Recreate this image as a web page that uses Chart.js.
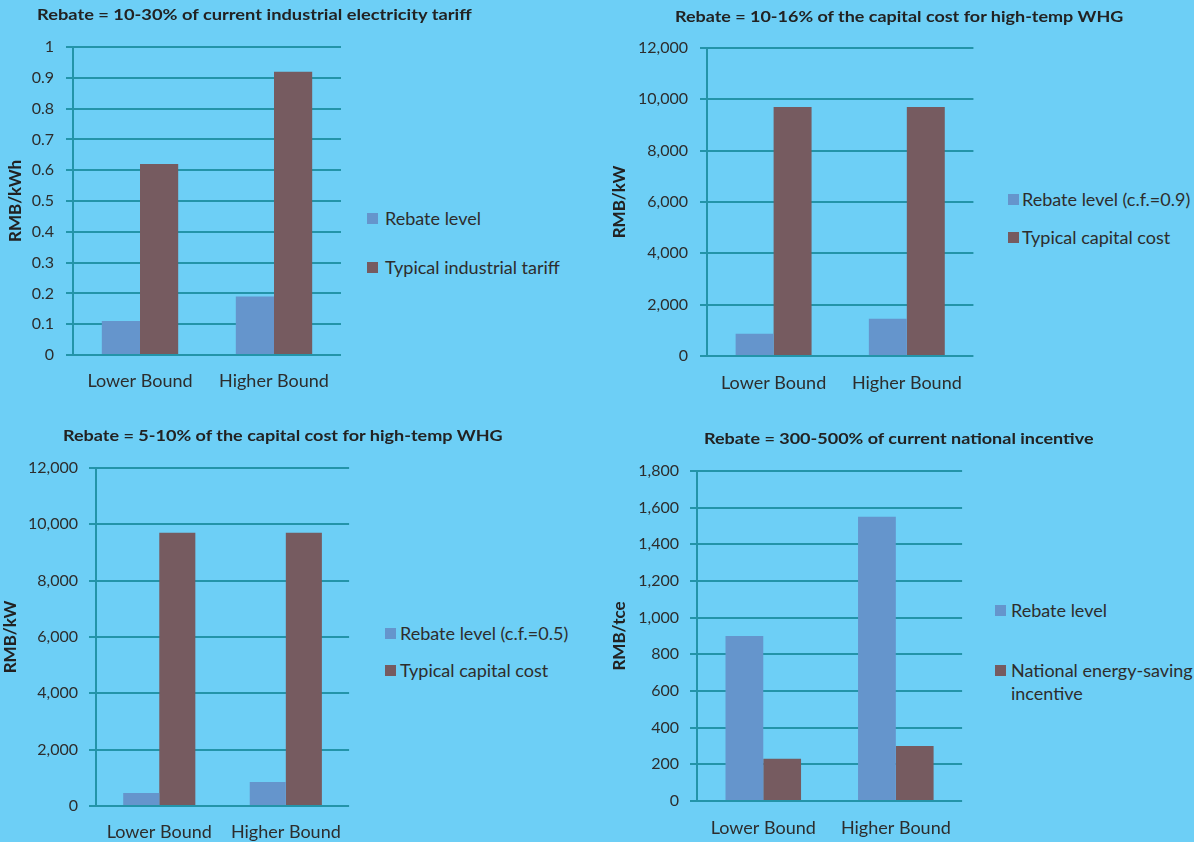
<!DOCTYPE html>
<html>
<head>
<meta charset="utf-8">
<script src="https://cdn.jsdelivr.net/npm/chart.js@4.4.1/dist/chart.umd.min.js"></script>
<style>
  body { margin: 0; width: 1194px; height: 842px; overflow: hidden; background: #6dcff6;
         font-family: Lato, "Open Sans", sans-serif; color: #2d2d2d; position: relative; }
  canvas { position: absolute; }
  .titulo { position: absolute; font-weight: bold; font-size: 15px; line-height: 1; white-space: nowrap;
            color: #222; transform-origin: 0 50%; }
  .leyenda { position: absolute; font-size: 18px; line-height: 23px; white-space: nowrap; }
  .leyenda i { position: absolute; left: 0; top: 6px; width: 11px; height: 11px; }
</style>
</head>
<body>
<canvas id="c1"></canvas>
<canvas id="c2"></canvas>
<canvas id="c3"></canvas>
<canvas id="c4"></canvas>

<script>
// Datos
const categorias = ['Lower Bound', 'Higher Bound'];

// 1) Tarifa electrica (RMB/kWh)
const tarifaRebaja = [0.11, 0.19];
const tarifaIndustrial = [0.62, 0.92];

// 2) Coste de capital, c.f.=0.9 (RMB/kW)
const capital09Rebaja = [870, 1450];
const capital09Coste = [9700, 9700];

// 3) Coste de capital, c.f.=0.5 (RMB/kW)
const capital05Rebaja = [460, 850];
const capital05Coste = [9700, 9700];

// 4) Incentivo nacional (RMB/tce)
const incentivoRebaja = [900, 1550];
const incentivoNacional = [230, 300];

// Escalas del eje y: [max, paso]
const ejeTarifa = [1, 0.1];
const ejeCapital = [12000, 2000];
const ejeIncentivo = [1800, 200];

const AZUL = '#6595cc';
const MARRON = '#765b60';
const REJILLA = '#2394a9';
const TEXTO = '#2d2d2d';

function formatoTick(v) {
  return Number(v.toFixed(2)).toLocaleString('en-US');
}

function crearGrafico(id, caja, area, opc) {
  const cv = document.getElementById(id);
  cv.style.left = caja.x + 'px';
  cv.style.top = caja.y + 'px';
  cv.width = caja.w;
  cv.height = caja.h;

  const altoX = caja.y + caja.h - area.b;
  new Chart(cv, {
    type: 'bar',
    data: {
      labels: categorias,
      datasets: [
        { label: opc.nombres[0], data: opc.series[0], backgroundColor: AZUL },
        { label: opc.nombres[1], data: opc.series[1], backgroundColor: MARRON }
      ]
    },
    options: {
      responsive: false,
      animation: false,
      categoryPercentage: 0.57,
      barPercentage: 1,
      layout: {
        padding: { left: 0, right: caja.x + caja.w - area.r, top: area.t - caja.y, bottom: 0 }
      },
      plugins: { legend: { display: false }, title: { display: false }, tooltip: { enabled: false } },
      scales: {
        x: {
          grid: { display: false, drawTicks: false },
          border: { display: false },
          ticks: { color: TEXTO, font: { family: 'Lato', size: 18 }, padding: opc.padX },
          afterFit(s) { s.height = altoX; }
        },
        y: {
          min: 0,
          max: opc.eje[0],
          ticks: { stepSize: opc.eje[1], color: TEXTO, font: { family: 'Lato', size: 16 },
                   padding: opc.padY, callback: formatoTick },
          grid: { color: REJILLA, lineWidth: 2, tickLength: 7, tickColor: REJILLA },
          border: { color: REJILLA, width: 2 },
          title: {
            display: true, text: opc.tituloY, color: '#222',
            font: { family: 'Lato', size: 17, weight: 'bold' },
            padding: { top: opc.padTitulo, bottom: 0 }
          },
          afterFit(s) { s.width = area.l - caja.x; }
        }
      }
    }
  });
}

crearGrafico('c1', { x: 0, y: 0, w: 346, h: 400 }, { l: 73, r: 341, t: 47, b: 355 }, {
  nombres: ['Rebate level', 'Typical industrial tariff'],
  series: [tarifaRebaja, tarifaIndustrial], eje: ejeTarifa,
  tituloY: 'RMB/kWh', padTitulo: 5, padY: 12, padX: 15
});
crearGrafico('c2', { x: 597, y: 0, w: 382, h: 400 }, { l: 707, r: 974, t: 48, b: 356 }, {
  nombres: ['Rebate level (c.f.=0.9)', 'Typical capital cost'],
  series: [capital09Rebaja, capital09Coste], eje: ejeCapital,
  tituloY: 'RMB/kW', padTitulo: 12, padY: 12, padX: 16
});
crearGrafico('c3', { x: 0, y: 420, w: 357, h: 422 }, { l: 96, r: 352, t: 468, b: 806 }, {
  nombres: ['Rebate level (c.f.=0.5)', 'Typical capital cost'],
  series: [capital05Rebaja, capital05Coste], eje: ejeCapital,
  tituloY: 'RMB/kW', padTitulo: 0, padY: 11, padX: 15
});
crearGrafico('c4', { x: 597, y: 420, w: 371, h: 422 }, { l: 697, r: 963, t: 471, b: 801 }, {
  nombres: ['Rebate level', 'National energy-saving\nincentive'],
  series: [incentivoRebaja, incentivoNacional], eje: ejeIncentivo,
  tituloY: 'RMB/tce', padTitulo: 12, padY: 11, padX: 16
});

// Titulos: [texto, x izquierda, x derecha, y centro]
const titulos = [
  ['Rebate = 10-30% of current industrial electricity tariff', 37, 472, 14],
  ['Rebate = 10-16% of the capital cost for high-temp WHG', 675, 1124, 16],
  ['Rebate = 5-10% of the capital cost for high-temp WHG', 63, 503, 435],
  ['Rebate = 300-500% of current national incentive', 704, 1094, 438]
];
titulos.forEach(([texto, x0, x1, y]) => {
  const d = document.createElement('div');
  d.className = 'titulo';
  d.textContent = texto;
  d.style.left = x0 + 'px';
  d.style.top = (y - 7.5) + 'px';
  document.body.appendChild(d);
  d.style.transform = 'scaleX(' + ((x1 - x0) / d.offsetWidth).toFixed(3) + ')';
});

// Leyendas: [texto, color, x cuadro, x texto, y centro]
const leyendas = [
  ['Rebate level', AZUL, 367, 385, 218],
  ['Typical industrial tariff', MARRON, 367, 385, 267],
  ['Rebate level (c.f.=0.9)', AZUL, 1008, 1022, 199],
  ['Typical capital cost', MARRON, 1008, 1022, 237],
  ['Rebate level (c.f.=0.5)', AZUL, 385, 400, 633],
  ['Typical capital cost', MARRON, 385, 400, 670],
  ['Rebate level', AZUL, 995, 1011, 610],
  ['National energy-saving<br>incentive', MARRON, 995, 1011, 670]
];
leyendas.forEach(([texto, color, xc, xt, y]) => {
  const d = document.createElement('div');
  d.className = 'leyenda';
  d.style.left = xc + 'px';
  d.style.top = (y - 11.5) + 'px';
  d.style.paddingLeft = (xt - xc) + 'px';
  d.innerHTML = '<i style="background:' + color + '"></i>' + texto;
  document.body.appendChild(d);
});
</script>
</body>
</html>
